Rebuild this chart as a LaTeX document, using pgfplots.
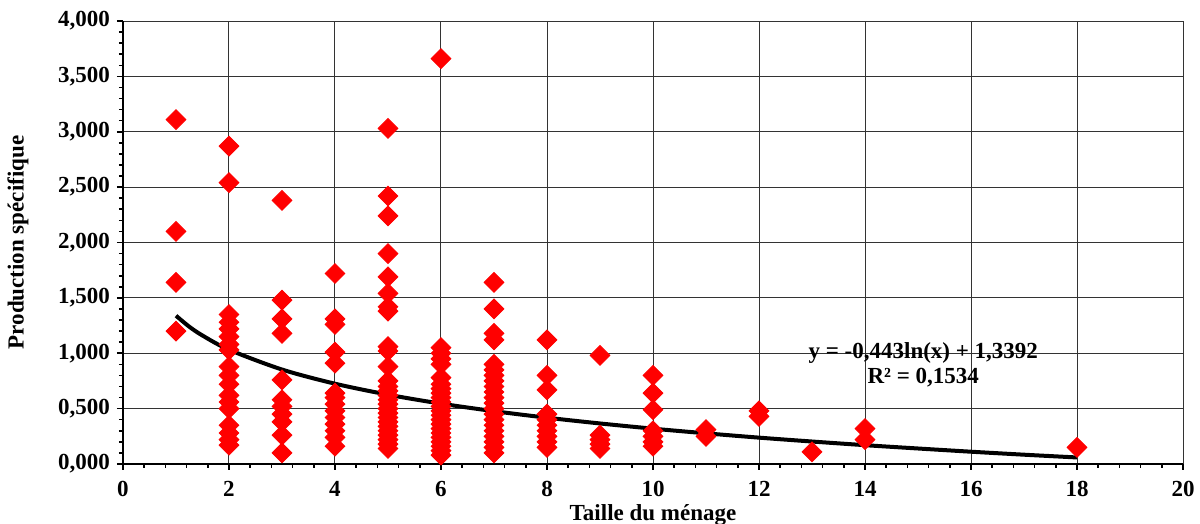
\documentclass[border=0pt]{standalone}
\usepackage{fontspec}
\setmainfont{Liberation Serif}
\usepackage{pgfplots}
\pgfplotsset{compat=1.18}

\begin{document}
\begin{tikzpicture}
\path[use as bounding box] (-61.5pt,-30pt) rectangle (538.5pt,232pt);
\begin{axis}[
    scale only axis,
    width=530pt, height=221.5pt,
    xmin=0, xmax=20, ymin=0, ymax=4,
    xtick={0,2,...,20},
    ytick={0,0.5,...,4},
    minor x tick num=4,
    minor y tick num=4,
    axis x line*=bottom,
    axis y line*=left,
    axis line style={line width=1.2pt, -},
    tick align=outside,
    major tick length=3pt,
    minor tick length=2pt,
    tick style={black, line width=0.8pt},
    grid=major,
    major grid style={black!80, line width=0.5pt},
    ticklabel style={font=\bfseries\fontsize{11.5}{13}\selectfont},
    xticklabel style={yshift=-2pt},
    /pgf/number format/assume math mode=true,
    yticklabel style={/pgf/number format/.cd, fixed, fixed zerofill, precision=3, use comma},
    xlabel={Taille du ménage},
    ylabel={Production spécifique},
    label style={font=\bfseries\fontsize{11.5}{13}\selectfont},
    xlabel style={at={(axis description cs:0.5,-0.115)}, anchor=center},
    ylabel style={at={(axis description cs:-0.099,0.5)}, anchor=center},
    clip=false,
]
% observations
\addplot[only marks, mark=square*, mark size=3.5pt, color=red, mark options={rotate=45, fill=red, draw=red}] coordinates {
 (1,3.11) (1,2.10) (1,1.64) (1,1.20)
 (2,2.87) (2,2.54) (2,1.35) (2,1.28) (2,1.22) (2,1.15) (2,1.08) (2,1.03) (2,0.88) (2,0.80) (2,0.72) (2,0.62) (2,0.56) (2,0.50) (2,0.35) (2,0.28) (2,0.22) (2,0.17)
 (3,2.38) (3,1.48) (3,1.31) (3,1.18) (3,0.76) (3,0.58) (3,0.52) (3,0.45) (3,0.38) (3,0.26) (3,0.10)
 (4,1.72) (4,1.31) (4,1.26) (4,1.01) (4,0.91) (4,0.64) (4,0.60) (4,0.54) (4,0.48) (4,0.42) (4,0.36) (4,0.30) (4,0.24) (4,0.16)
 (5,3.03) (5,2.42) (5,2.24) (5,1.90) (5,1.69) (5,1.54) (5,1.42) (5,1.38) (5,1.06) (5,1.02) (5,0.88) (5,0.75) (5,0.70) (5,0.66) (5,0.62) (5,0.58) (5,0.54) (5,0.50) (5,0.46) (5,0.42) (5,0.38) (5,0.34) (5,0.30) (5,0.26) (5,0.22) (5,0.18) (5,0.14)
 (6,3.66) (6,1.05) (6,1.00) (6,0.95) (6,0.90) (6,0.78) (6,0.72) (6,0.68) (6,0.64) (6,0.60) (6,0.56) (6,0.52) (6,0.48) (6,0.44) (6,0.40) (6,0.36) (6,0.32) (6,0.28) (6,0.24) (6,0.20) (6,0.16) (6,0.12) (6,0.08)
 (7,1.64) (7,1.40) (7,1.18) (7,1.12) (7,0.90) (7,0.85) (7,0.80) (7,0.75) (7,0.70) (7,0.65) (7,0.60) (7,0.55) (7,0.50) (7,0.45) (7,0.40) (7,0.35) (7,0.30) (7,0.25) (7,0.20) (7,0.15) (7,0.10)
 (8,1.12) (8,0.80) (8,0.67) (8,0.45) (8,0.40) (8,0.35) (8,0.30) (8,0.25) (8,0.20) (8,0.15)
 (9,0.98) (9,0.26) (9,0.22) (9,0.18) (9,0.14)
 (10,0.80) (10,0.64) (10,0.49) (10,0.30) (10,0.25) (10,0.20) (10,0.16)
 (11,0.31) (11,0.25)
 (12,0.48) (12,0.43)
 (13,0.11)
 (14,0.32) (14,0.22)
 (18,0.15)
};
% logarithmic trend line
\addplot[black, line width=2pt, smooth, no marks] coordinates {
 (1,1.339) (1.25,1.240) (1.5,1.160) (2,1.032) (3,0.853) (4,0.725) (5,0.626) (6,0.545)
 (7,0.477) (8,0.418) (9,0.366) (10,0.319) (11,0.277) (12,0.238) (13,0.203)
 (14,0.170) (15,0.140) (16,0.111) (17,0.084) (18,0.059)
};
\node[font=\bfseries\fontsize{11.5}{12.5}\selectfont, align=center, inner sep=0pt] at (axis cs:15.1,0.9) {y = -0,443ln(x) + 1,3392\\R² = 0,1534};
\end{axis}
\end{tikzpicture}
\end{document}
